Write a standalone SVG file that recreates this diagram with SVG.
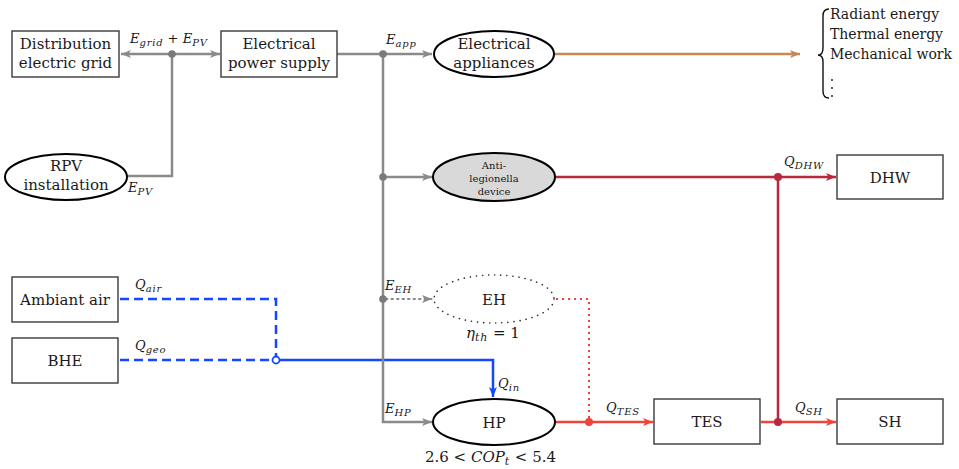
<svg xmlns="http://www.w3.org/2000/svg" width="959" height="469" viewBox="0 0 959 469">
<style>
.box{fill:#fff;stroke:#3a3a3a;stroke-width:1.4}
.ell{fill:#fff;stroke:#000;stroke-width:2}
.t{font-family:'DejaVu Serif','Liberation Serif',serif;font-size:15px;fill:#1a1a1a;text-anchor:middle}
.ts{font-family:'DejaVu Serif','Liberation Serif',serif;font-size:10px;fill:#1a1a1a;text-anchor:middle}
.m{font-family:'DejaVu Serif','Liberation Serif',serif;font-style:italic;font-size:13px;fill:#1a1a1a}
.s{font-size:10px;letter-spacing:0.8px}
.n{font-style:normal;letter-spacing:0}
.g{stroke:#8a8a8a;stroke-width:2.5;fill:none}
.b{stroke:#1448ff;stroke-width:2.5;fill:none}
.c{stroke:#b8283f;stroke-width:2.5;fill:none}
.r{stroke:#f0443a;stroke-width:2.5;fill:none}
.br{stroke:#c48a52;stroke-width:2.5;fill:none}
</style>
<defs>
<marker id="ag" viewBox="0 0 10 8" refX="10" refY="4" markerWidth="10" markerHeight="8" markerUnits="userSpaceOnUse" orient="auto-start-reverse"><path d="M0,0 L10,4 L0,8 L2.5,4 z" fill="#8a8a8a"/></marker>
<marker id="ab" viewBox="0 0 10 8" refX="10" refY="4" markerWidth="10" markerHeight="8" markerUnits="userSpaceOnUse" orient="auto"><path d="M0,0 L10,4 L0,8 L2.5,4 z" fill="#1448ff"/></marker>
<marker id="ac" viewBox="0 0 10 8" refX="10" refY="4" markerWidth="10" markerHeight="8" markerUnits="userSpaceOnUse" orient="auto"><path d="M0,0 L10,4 L0,8 L2.5,4 z" fill="#b8283f"/></marker>
<marker id="ar" viewBox="0 0 10 8" refX="10" refY="4" markerWidth="10" markerHeight="8" markerUnits="userSpaceOnUse" orient="auto"><path d="M0,0 L10,4 L0,8 L2.5,4 z" fill="#f0443a"/></marker>
<marker id="abr" viewBox="0 0 10 8" refX="10" refY="4" markerWidth="10" markerHeight="8" markerUnits="userSpaceOnUse" orient="auto"><path d="M0,0 L10,4 L0,8 L2.5,4 z" fill="#c48a52"/></marker>
</defs>

<g id="connectors">
  <path class="b" d="M120,299 H276 V356" stroke-dasharray="9 5"/>
  <path class="b" d="M120,360 H272" stroke-dasharray="9 5"/>
  <path class="b" d="M280,360 H493 V397" marker-end="url(#ab)"/>
  <circle cx="276" cy="360" r="3.5" fill="#fff" stroke="#1448ff" stroke-width="1.8"/>
  <path class="g" d="M121,54 H220" marker-start="url(#ag)" marker-end="url(#ag)"/>
  <path class="g" d="M172,54 V176 H127"/>
  <path class="g" d="M337,54 H432" marker-end="url(#ag)"/>
  <path class="g" d="M383,54 V422 H432" marker-end="url(#ag)"/>
  <path class="g" d="M383,177 H432" marker-end="url(#ag)"/>
  <path d="M386,299 H432" stroke="#8a8a8a" stroke-width="2" stroke-dasharray="1.5 4" stroke-linecap="round" fill="none" marker-end="url(#ag)"/>
  <circle cx="172" cy="54" r="3.8" fill="#7a7a7a"/>
  <circle cx="383" cy="54" r="3.8" fill="#7a7a7a"/>
  <circle cx="383" cy="177" r="3.8" fill="#7a7a7a"/>
  <circle cx="383" cy="299" r="3.8" fill="#7a7a7a"/>
  <path class="br" d="M555,54 H800" marker-end="url(#abr)"/>
  <path class="c" d="M555,177 H836" marker-end="url(#ac)"/>
  <path class="c" d="M778,177 V422"/>
  <path d="M556,299 H589 V420" stroke="#f0443a" stroke-width="2" stroke-dasharray="2 4" fill="none"/>
  <path class="r" d="M555,422 H653" marker-end="url(#ar)"/>
  <path class="r" d="M761,422 H836" marker-end="url(#ar)"/>
  <circle cx="589" cy="422" r="4" fill="#f0443a"/>
  <circle cx="778" cy="177" r="4" fill="#b8283f"/>
  <circle cx="778" cy="422" r="4" fill="#b8283f"/>
  <text class="m" x="130" y="43">E<tspan class="s" dy="2.5">grid</tspan><tspan class="n" dy="-2.5"> + </tspan>E<tspan class="s" dy="2.5">PV</tspan></text>
  <text class="m" x="128" y="192">E<tspan class="s" dy="2.5">PV</tspan></text>
  <text class="m" x="386" y="44">E<tspan class="s" dy="2.5">app</tspan></text>
  <text class="m" x="385" y="290">E<tspan class="s" dy="2.5">EH</tspan></text>
  <text class="m" x="385" y="413">E<tspan class="s" dy="2.5">HP</tspan></text>
  <text class="m" x="135" y="289">Q<tspan class="s" dy="2.5">air</tspan></text>
  <text class="m" x="135" y="350">Q<tspan class="s" dy="2.5">geo</tspan></text>
  <text class="m" x="498" y="388">Q<tspan class="s" dy="2.5">in</tspan></text>
  <text class="m" x="606" y="412">Q<tspan class="s" dy="2.5">TES</tspan></text>
  <text class="m" x="795" y="412">Q<tspan class="s" dy="2.5">SH</tspan></text>
  <text class="m" x="784" y="166">Q<tspan class="s" dy="2.5">DHW</tspan></text>
</g>

<g id="grid"><rect class="box" x="12" y="31" width="107" height="46"/><text class="t" x="65.5" y="49">Distribution</text><text class="t" x="65.5" y="68">electric grid</text></g>
<g id="power"><rect class="box" x="221" y="31" width="116" height="46"/><text class="t" x="279" y="49">Electrical</text><text class="t" x="279" y="68">power supply</text></g>
<g id="appliances"><ellipse class="ell" cx="494" cy="54" rx="60" ry="23"/><text class="t" x="494" y="49">Electrical</text><text class="t" x="494" y="68">appliances</text></g>
<g id="outputs">
  <path d="M829,9 Q823,9 823,16 V48 Q823,55 818,55 Q823,55 823,62 V91 Q823,98 829,98" fill="none" stroke="#111" stroke-width="1.4"/>
  <text class="t" x="830" y="19" style="text-anchor:start;font-size:14px">Radiant energy</text>
  <text class="t" x="830" y="39" style="text-anchor:start;font-size:14px">Thermal energy</text>
  <text class="t" x="830" y="59" style="text-anchor:start;font-size:14px">Mechanical work</text>
  <circle cx="832" cy="80" r="0.9" fill="#111"/><circle cx="832" cy="88" r="0.9" fill="#111"/><circle cx="832" cy="96" r="0.9" fill="#111"/>
</g>
<g id="rpv"><ellipse class="ell" cx="66" cy="177" rx="61" ry="23"/><text class="t" x="66" y="171">RPV</text><text class="t" x="66" y="190">installation</text></g>
<g id="antileg"><ellipse cx="494" cy="177" rx="61" ry="24" fill="#d9d9d9" stroke="#000" stroke-width="2"/><text class="ts" x="494" y="169">Anti-</text><text class="ts" x="494" y="182">legionella</text><text class="ts" x="494" y="195">device</text></g>
<g id="dhw"><rect class="box" x="837" y="155" width="106" height="44"/><text class="t" x="890" y="183">DHW</text></g>
<g id="eh"><ellipse cx="494" cy="299" rx="60" ry="24" fill="none" stroke="#333" stroke-width="1.6" stroke-dasharray="0.1 6" stroke-linecap="round"/><text class="t" x="494" y="305">EH</text><text class="m" x="466" y="338" style="font-size:15px">η<tspan class="s" dy="3" style="font-size:11px">th</tspan><tspan class="n" dy="-3"> = 1</tspan></text></g>
<g id="ambiant"><rect class="box" x="12" y="277" width="106" height="45"/><text class="t" x="65" y="305">Ambiant air</text></g>
<g id="bhe"><rect class="box" x="12" y="338" width="106" height="45"/><text class="t" x="65" y="366">BHE</text></g>
<g id="hp"><ellipse class="ell" cx="494" cy="422" rx="61" ry="23"/><text class="t" x="494" y="428">HP</text><text class="m" x="425" y="462" style="font-size:15px"><tspan class="n">2.6 &lt; </tspan>COP<tspan class="s" dy="3" style="font-size:11px">t</tspan><tspan class="n" dy="-3"> &lt; 5.4</tspan></text></g>
<g id="tes"><rect class="box" x="654" y="399" width="106" height="45"/><text class="t" x="707" y="427">TES</text></g>
<g id="sh"><rect class="box" x="837" y="399" width="106" height="45"/><text class="t" x="890" y="427">SH</text></g>
</svg>
